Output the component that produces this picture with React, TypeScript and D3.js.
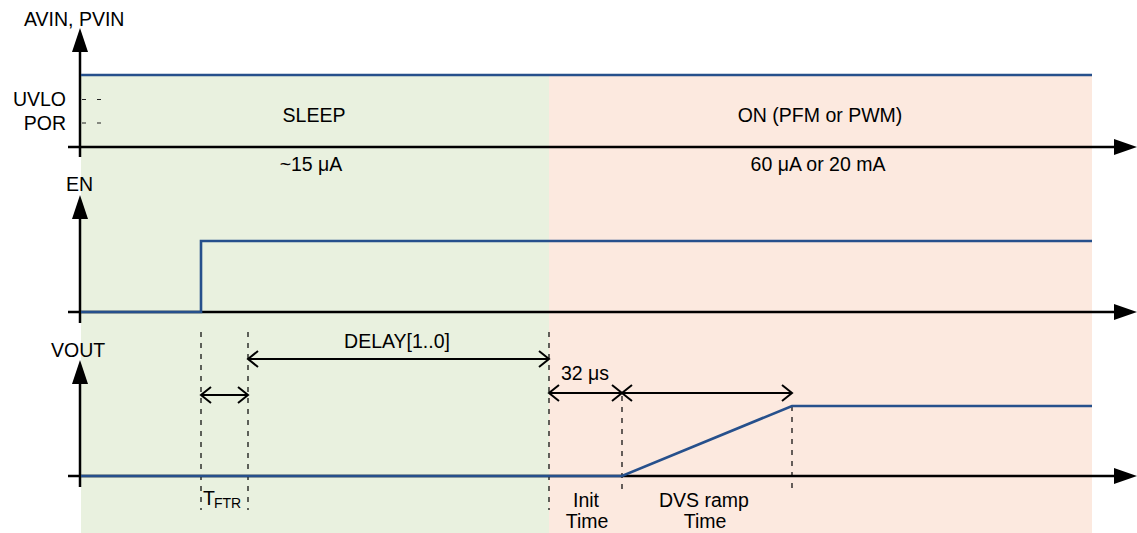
import React, { useRef, useEffect } from "react";
import * as d3 from "d3";

type Pt = [number, number];

// time markers (arbitrary units along the time axis)
const tStart = 0;
const tEnRise = 120;
const tFtrEnd = 167;
const tOn = 468;
const tInitEnd = 541;
const tRampEnd = 711;
const tEnd = 1011;

// signal levels per panel (0 = low, 1 = high)
const avinSignal: Pt[] = [[tStart, 1], [tEnd, 1]];
const enSignal: Pt[] = [[tStart, 0], [tEnRise, 0], [tEnRise, 1], [tEnd, 1]];
const voutSignal: Pt[] = [[tStart, 0], [tInitEnd, 0], [tRampEnd, 1], [tEnd, 1]];

const thresholdLabels = ["UVLO", "POR"];
const thresholdLevels = [0.66, 0.333];

const panelLabels = ["AVIN, PVIN", "EN", "VOUT"];

const stateNames = ["SLEEP", "ON (PFM or PWM)"];
const stateCurrents = ["~15 \u03bcA", "60 \u03bcA or 20 mA"];

const App: React.FC = () => {
  const svgRef = useRef<SVGSVGElement>(null);

  useEffect(() => {
    const width = 1137;
    const height = 533;
    const svg = d3.select(svgRef.current);
    svg.selectAll("*").remove();

    const blue = "#26508c";
    const font = "'Liberation Sans', Arial, Helvetica, sans-serif";
    const fs = 19.5;

    const x = d3.scaleLinear().domain([tStart, tEnd]).range([81, 1092]);

    // panels: baseline and high level
    const panels = [
      { base: 147, high: 75, axisTop: 28, axisBottom: 157, labelX: 24, labelY: 26 },
      { base: 312, high: 241, axisTop: 195, axisBottom: 323, labelX: 66, labelY: 191 },
      { base: 476, high: 406, axisTop: 360, axisBottom: 487, labelX: 51, labelY: 357 },
    ];
    const yScales = panels.map((p) => d3.scaleLinear().domain([0, 1]).range([p.base, p.high]));

    // background regions
    svg.append("rect")
      .attr("x", x(tStart)).attr("y", 75)
      .attr("width", x(tOn) - x(tStart)).attr("height", height - 75)
      .attr("fill", "#e9f1df");
    svg.append("rect")
      .attr("x", x(tOn)).attr("y", 75)
      .attr("width", x(tEnd) - x(tOn)).attr("height", height - 75)
      .attr("fill", "#fce9df");

    // dashed markers
    const dashed = [
      { t: tEnRise, y1: 332, y2: 510 },
      { t: tFtrEnd, y1: 332, y2: 510 },
      { t: tOn, y1: 332, y2: 510 },
      { t: tInitEnd, y1: 396, y2: 494 },
      { t: tRampEnd, y1: 406, y2: 494 },
    ];
    svg.append("g").selectAll("line").data(dashed).enter().append("line")
      .attr("x1", (d) => x(d.t)).attr("x2", (d) => x(d.t))
      .attr("y1", (d) => d.y1).attr("y2", (d) => d.y2)
      .attr("stroke", "#000").attr("stroke-width", 1.2)
      .attr("stroke-dasharray", "5,6");

    // axes
    panels.forEach((p, i) => {
      const g = svg.append("g");
      g.append("line")
        .attr("x1", 68).attr("x2", 1116).attr("y1", p.base).attr("y2", p.base)
        .attr("stroke", "#000").attr("stroke-width", 2.5);
      g.append("path")
        .attr("d", `M1137,${p.base} L1114,${p.base - 8} L1114,${p.base + 8} Z`)
        .attr("fill", "#000");
      g.append("line")
        .attr("x1", 80).attr("x2", 80).attr("y1", p.axisTop + 20).attr("y2", p.axisBottom)
        .attr("stroke", "#000").attr("stroke-width", 2.5);
      g.append("path")
        .attr("d", `M80,${p.axisTop} L72,${p.axisTop + 24} L88,${p.axisTop + 24} Z`)
        .attr("fill", "#000");
      g.append("text")
        .attr("x", p.labelX)
        .attr("y", p.labelY)
        .attr("font-family", font).attr("font-size", fs)
        .text(panelLabels[i]);
    });

    // threshold labels
    thresholdLabels.forEach((lab, i) => {
      const yy = yScales[0](thresholdLevels[i]);
      svg.append("text")
        .attr("x", 66).attr("y", yy + 7)
        .attr("text-anchor", "end")
        .attr("font-family", font).attr("font-size", fs)
        .text(lab);
      svg.append("line")
        .attr("x1", 82).attr("x2", 101).attr("y1", yy).attr("y2", yy)
        .attr("stroke", "#222").attr("stroke-width", 1.2)
        .attr("stroke-dasharray", "4,11");
    });

    // signals
    const line = d3.line<Pt>();
    [avinSignal, enSignal, voutSignal].forEach((sig, i) => {
      svg.append("path")
        .datum(sig.map((d) => [x(d[0]), yScales[i](d[1])] as Pt))
        .attr("d", line)
        .attr("fill", "none")
        .attr("stroke", blue)
        .attr("stroke-width", 2.6);
    });

    const txt = (s: string, tx: number, ty: number) =>
      svg.append("text")
        .attr("x", tx).attr("y", ty)
        .attr("text-anchor", "middle")
        .attr("font-family", font).attr("font-size", fs)
        .text(s);

    // state labels
    const stateCenters = [314, 820];
    const currentCenters = [311, 818];
    stateNames.forEach((s, i) => {
      txt(s, stateCenters[i], 122);
      txt(stateCurrents[i], currentCenters[i], 171);
    });

    // dimension arrows
    const dimArrow = (t1: number, t2: number, yy: number) => {
      const x1 = x(t1);
      const x2 = x(t2);
      const g = svg.append("g").attr("stroke", "#000").attr("stroke-width", 2).attr("fill", "none");
      g.append("line").attr("x1", x1).attr("x2", x2).attr("y1", yy).attr("y2", yy);
      g.append("path").attr("d", `M${x1 + 10},${yy - 8} L${x1},${yy} L${x1 + 10},${yy + 8}`);
      g.append("path").attr("d", `M${x2 - 10},${yy - 8} L${x2},${yy} L${x2 - 10},${yy + 8}`);
    };
    dimArrow(tFtrEnd, tOn, 359);
    dimArrow(tEnRise, tFtrEnd, 395);
    dimArrow(tOn, tInitEnd, 393);
    dimArrow(tInitEnd, tRampEnd, 393);

    txt("DELAY[1..0]", 397, 348);
    txt("32 \u03bcs", 585, 380);

    const tftr = svg.append("text")
      .attr("x", 203)
      .attr("y", 505)
      .attr("font-family", font).attr("font-size", fs);
    tftr.append("tspan").text("T");
    tftr.append("tspan").attr("font-size", 14).attr("dy", 3).attr("dx", -1).text("FTR");

    txt("Init", 586, 507);
    txt("Time", 587, 528);
    txt("DVS ramp", 704, 507);
    txt("Time", 705, 528);

    svg.attr("width", width).attr("height", height);
  }, []);

  return (
    <svg
      ref={svgRef}
      width={1137}
      height={533}
      style={{ position: "absolute", left: 0, top: 0, background: "#fff" }}
    />
  );
};

export default App;
